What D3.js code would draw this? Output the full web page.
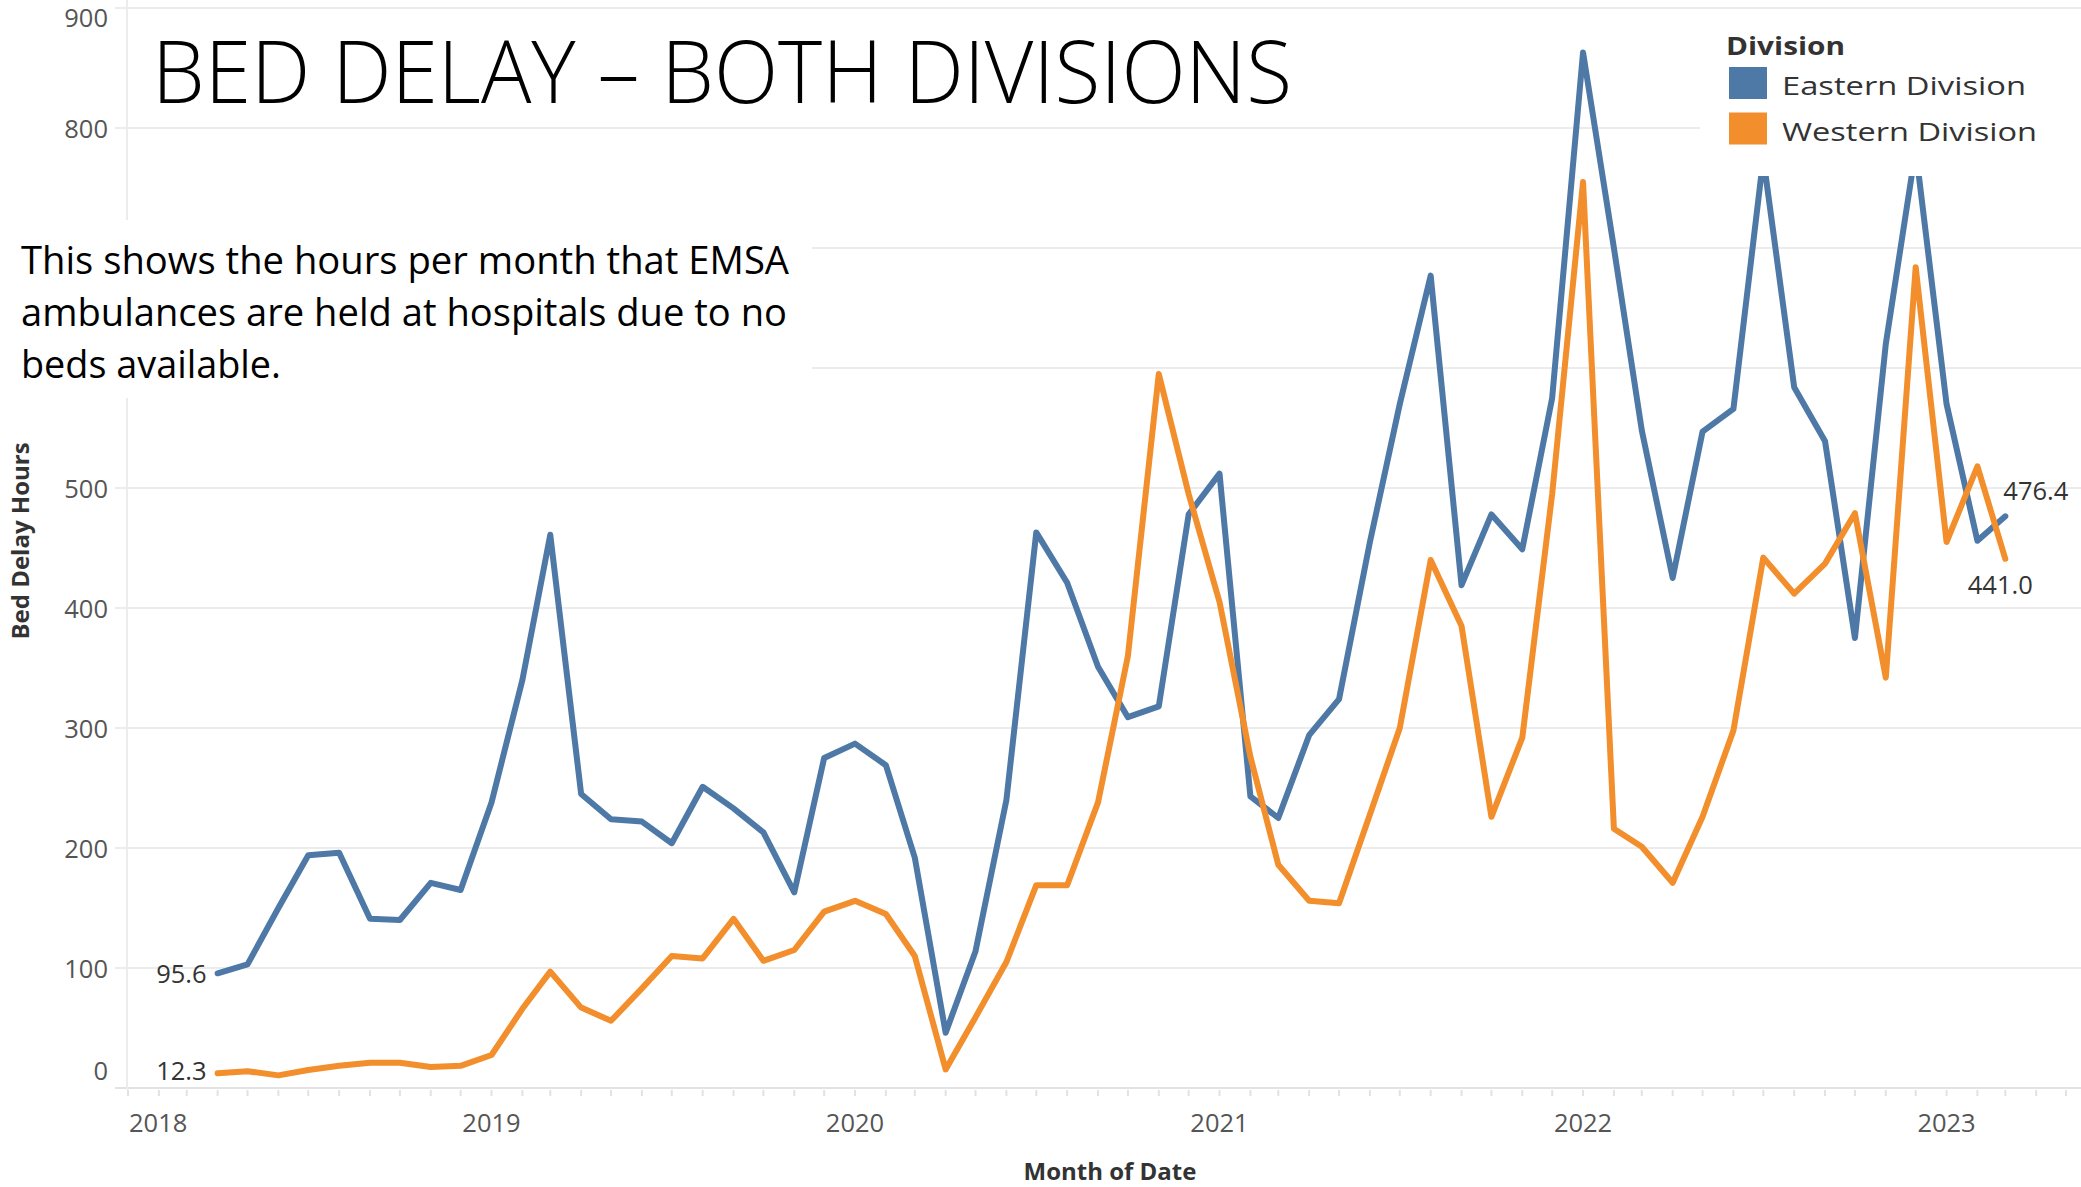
<!DOCTYPE html>
<html>
<head>
<meta charset="utf-8">
<script src="https://cdn.jsdelivr.net/npm/d3@7"></script>
<style>
  html, body { margin: 0; padding: 0; background: #fff; }
  svg text { font-family: "Open Sans", "Noto Sans", sans-serif; }
</style>
</head>
<body>
<svg id="chart" width="2081" height="1187"></svg>
<script>
// monthly values, Apr 2018 .. Mar 2023
var firstMonth = new Date(2018, 3, 1);
var lastMonth = new Date(2023, 2, 1);

var eastern = [95.6, 103, 150, 194, 196, 141, 140, 171, 165,
  238, 340, 461, 245, 224, 222, 204, 251, 233, 213, 163, 275,
  287, 269, 192, 46, 114, 240, 463, 421, 351, 309, 318, 478,
  512, 243, 225, 294, 324, 455, 570, 677, 419, 478, 449, 575,
  863, 700, 548, 425, 547, 566, 775, 584, 539, 375, 620, 782,
  570, 456, 476.4];

var western = [12.3, 14, 10.5, 15, 18.5, 21, 21, 17.5, 18.5,
  27.5, 66, 97, 67, 56, 83, 110, 108, 141, 106, 115, 147,
  156, 145, 110, 15.5, 59, 105, 169, 169, 238, 360, 595, 495,
  405, 276, 186, 156, 154, 228, 300, 440, 385, 226, 292, 495,
  755, 216, 201, 171, 226, 298, 442, 412, 437, 479, 342, 684,
  455, 518, 441.0];

var divisions = ["Eastern Division", "Western Division"];
var colors = ["#4e79a7", "#f28e2b"];
var yTicks = [0, 100, 200, 300, 400, 500, 600, 700, 800, 900];
var hiddenTicks = [600, 700]; // labels sit under the slide's text box
var yearTicks = [2018, 2019, 2020, 2021, 2022, 2023];

var months = d3.timeMonth.range(firstMonth, d3.timeMonth.offset(lastMonth, 1));

var svg = d3.select("#chart");

var x = d3.scaleTime()
    .domain([new Date(2018, 0, 1), new Date(2023, 4, 16)])
    .range([128, 2081]);

var y = d3.scaleLinear()
    .domain([0, 900])
    .range([1088, 8]);

// gridlines
svg.append("g")
    .selectAll("line")
    .data(yTicks)
    .enter()
    .append("line")
    .attr("x1", 115)
    .attr("x2", 2081)
    .attr("y1", function (d) { return y(d); })
    .attr("y2", function (d) { return y(d); })
    .attr("stroke", function (d) { return d === 0 ? "#e2e2e2" : "#ececec"; })
    .attr("stroke-width", 2);

// vertical axis line
svg.append("line")
    .attr("x1", 127).attr("x2", 127)
    .attr("y1", 0).attr("y2", 1090)
    .attr("stroke", "#ececec")
    .attr("stroke-width", 2);

// y tick labels (edge labels nudged inside like tableau)
svg.append("g")
    .selectAll("text")
    .data(yTicks.filter(function (d) { return hiddenTicks.indexOf(d) < 0; }))
    .enter()
    .append("text")
    .attr("x", 108)
    .attr("y", function (d) {
      if (d === 0) return y(d) - 18;
      if (d === 900) return y(d) + 9;
      return y(d);
    })
    .attr("text-anchor", "end")
    .attr("dominant-baseline", "central")
    .attr("font-size", 25.5)
    .attr("fill", "#555")
    .text(function (d) { return d; });

// month ticks along the bottom
svg.append("g")
    .selectAll("line")
    .data(d3.timeMonth.range(new Date(2018, 0, 1), new Date(2023, 4, 16)))
    .enter()
    .append("line")
    .attr("x1", function (d) { return x(d); })
    .attr("x2", function (d) { return x(d); })
    .attr("y1", 1090)
    .attr("y2", 1096)
    .attr("stroke", "#e2e2e2")
    .attr("stroke-width", 2);

// year labels
svg.append("g")
    .selectAll("text")
    .data(yearTicks)
    .enter()
    .append("text")
    .attr("x", function (d, i) { return i === 0 ? 129 : x(new Date(d, 0, 1)); })
    .attr("y", 1122)
    .attr("text-anchor", function (d, i) { return i === 0 ? "start" : "middle"; })
    .attr("dominant-baseline", "central")
    .attr("font-size", 25.5)
    .attr("fill", "#555")
    .text(function (d) { return d; });

// axis titles
svg.append("text")
    .attr("x", 1110)
    .attr("y", 1170)
    .attr("text-anchor", "middle")
    .attr("dominant-baseline", "central")
    .attr("font-size", 24)
    .attr("font-weight", "bold")
    .attr("fill", "#333")
    .text("Month of Date");

svg.append("text")
    .attr("transform", "translate(19,541) rotate(-90)")
    .attr("text-anchor", "middle")
    .attr("dominant-baseline", "central")
    .attr("font-size", 24)
    .attr("font-weight", "bold")
    .attr("fill", "#333")
    .text("Bed Delay Hours");

// lines
var line = d3.line()
    .x(function (d) { return x(d.date); })
    .y(function (d) { return y(d.value); });

var series = [eastern, western].map(function (vals, k) {
  return {
    name: divisions[k],
    color: colors[k],
    points: vals.map(function (v, i) { return { date: months[i], value: v }; })
  };
});

svg.append("g")
    .selectAll("path")
    .data(series)
    .enter()
    .append("path")
    .attr("d", function (d) { return line(d.points); })
    .attr("fill", "none")
    .attr("stroke", function (d) { return d.color; })
    .attr("stroke-width", 6)
    .attr("stroke-linejoin", "round")
    .attr("stroke-linecap", "round");

// end labels
var endLabels = [
  { p: series[0].points[0], dx: -11, dy: 0, anchor: "end" },
  { p: series[1].points[0], dx: -11, dy: -3, anchor: "end" },
  { p: series[0].points[59], dx: -2, dy: -26, anchor: "start" },
  { p: series[1].points[59], dx: -5, dy: 25, anchor: "middle" }
];

svg.append("g")
    .selectAll("text")
    .data(endLabels)
    .enter()
    .append("text")
    .attr("x", function (d) { return x(d.p.date) + d.dx; })
    .attr("y", function (d) { return y(d.p.value) + d.dy; })
    .attr("text-anchor", function (d) { return d.anchor; })
    .attr("dominant-baseline", "central")
    .attr("font-size", 25.5)
    .attr("fill", "#333")
    .text(function (d) { return d.p.value.toFixed(1); });

// white boxes from the slide (text box, legend)
svg.append("rect")
    .attr("x", 0).attr("y", 220)
    .attr("width", 812).attr("height", 178)
    .attr("fill", "#fff");

svg.append("rect")
    .attr("x", 1700).attr("y", 12)
    .attr("width", 381).attr("height", 164)
    .attr("fill", "#fff");

// legend
var legend = svg.append("g");

legend.append("text")
    .attr("x", 1726)
    .attr("y", 45)
    .attr("dominant-baseline", "central")
    .attr("font-size", 25)
    .attr("font-weight", "bold")
    .attr("fill", "#333")
    .attr("textLength", 119)
    .attr("lengthAdjust", "spacingAndGlyphs")
    .text("Division");

legend.selectAll("rect.sw")
    .data(divisions)
    .enter()
    .append("rect")
    .attr("class", "sw")
    .attr("x", 1729)
    .attr("y", function (d, i) { return 67 + i * 45.5; })
    .attr("width", 38)
    .attr("height", 32)
    .attr("fill", function (d, i) { return colors[i]; });

legend.selectAll("text.lab")
    .data(divisions)
    .enter()
    .append("text")
    .attr("class", "lab")
    .attr("x", 1782)
    .attr("y", function (d, i) { return 85 + i * 45.5; })
    .attr("dominant-baseline", "central")
    .attr("font-size", 25.5)
    .attr("fill", "#333")
    .attr("textLength", function (d, i) { return i === 0 ? 244 : 255; })
    .attr("lengthAdjust", "spacingAndGlyphs")
    .text(function (d) { return d; });

// slide title and note
svg.append("text")
    .attr("x", 152)
    .attr("y", 103)
    .attr("font-size", 86)
    .attr("font-weight", 300)
    .attr("fill", "#000")
    .attr("textLength", 1140)
    .attr("lengthAdjust", "spacingAndGlyphs")
    .text("BED DELAY \u2013 BOTH DIVISIONS");

var note = [
  { t: "This shows the hours per month that EMSA", w: 768 },
  { t: "ambulances are held at hospitals due to no", w: 766 },
  { t: "beds available.", w: 260 }
];

svg.append("g")
    .selectAll("text")
    .data(note)
    .enter()
    .append("text")
    .attr("x", 21)
    .attr("y", function (d, i) { return 274 + i * 52; })
    .attr("font-size", 38)
    .attr("fill", "#000")
    .attr("textLength", function (d) { return d.w; })
    .attr("lengthAdjust", "spacingAndGlyphs")
    .text(function (d) { return d.t; });
</script>
</body>
</html>
